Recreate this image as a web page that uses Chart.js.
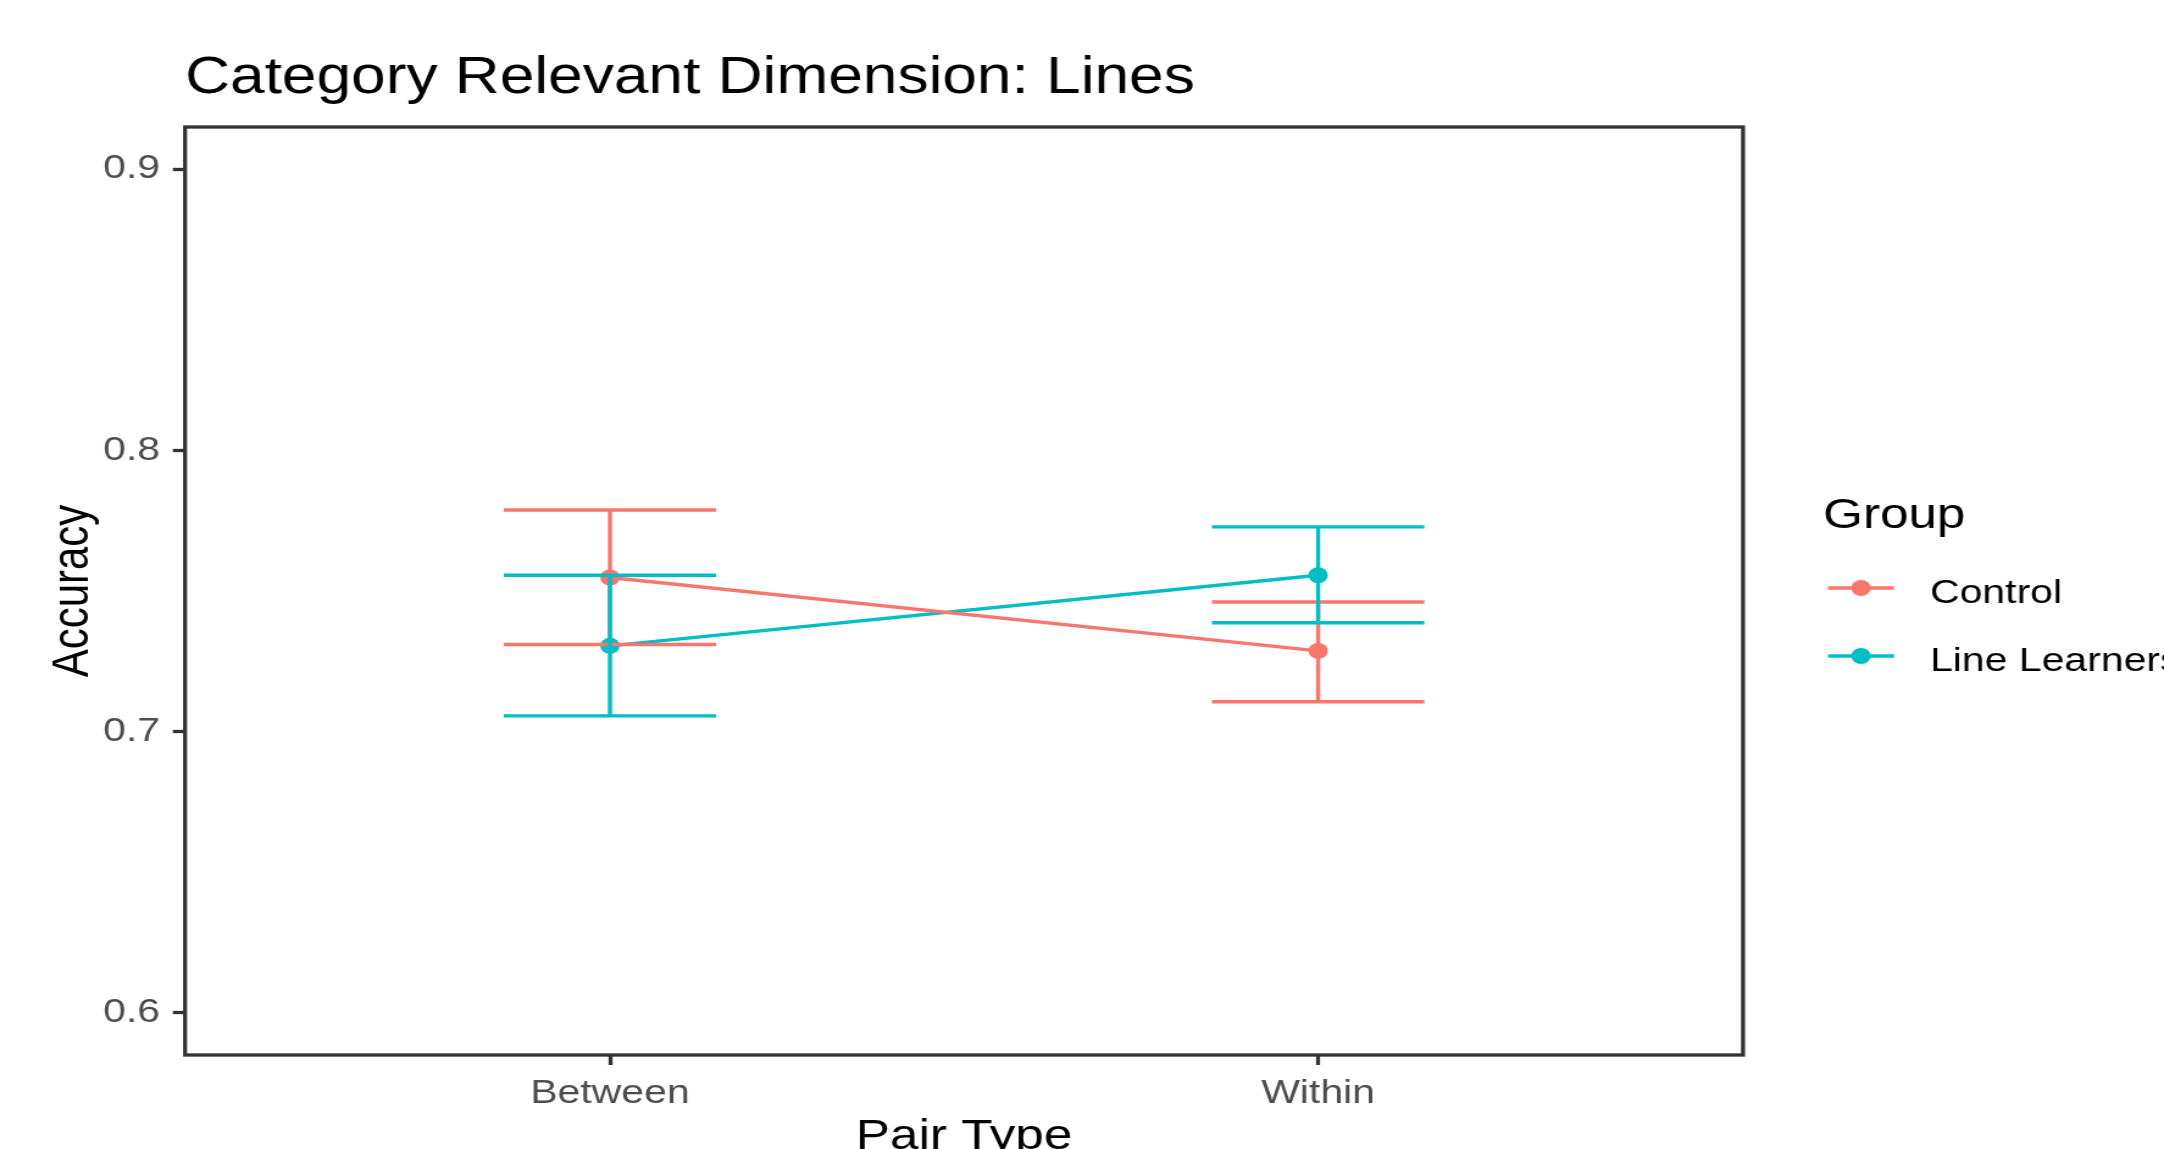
<!DOCTYPE html>
<html>
<head>
<meta charset="utf-8">
<title>Category Relevant Dimension: Lines</title>
<script src="https://cdn.jsdelivr.net/npm/chart.js@4.4.1/dist/chart.umd.min.js"></script>
<style>
  body { margin: 0; background: #fff; overflow: hidden; }
  /* o gráfico original é mais largo que alto na escala do texto, então esticamos só no eixo x */
  #wrap { width: 1774px; height: 1149px; transform: scaleX(1.21984); transform-origin: 0 0; }
  canvas { display: block; }
</style>
</head>
<body>
<div id="wrap"><canvas id="chart-acuracia" width="1774" height="1149"></canvas></div>
<script>
const categorias = ['Between', 'Within']
const grupos = ['Control', 'Line Learners']
const cores = ['#F8766D', '#00BFC4']

// média e limites do intervalo de cada grupo
const mediaControl = [0.7548, 0.7287]
const minControl = [0.7310, 0.7106]
const maxControl = [0.7788, 0.7461]

const mediaLine = [0.7305, 0.7556]
const minLine = [0.7056, 0.7387]
const maxLine = [0.7556, 0.7728]

const ticksY = [0.6, 0.7, 0.8, 0.9]

const LARGURA_BARRA = 0.3
const ESPESSURA = 3.4
const FONTE = "'Liberation Sans', Arial, sans-serif"

Chart.defaults.font.family = FONTE
Chart.defaults.color = '#000'

function criarSerie(label, cor, medias, mins, maxs) {
  return {
    label: label,
    data: medias.map((m, i) => ({ x: i + 1, y: m, min: mins[i], max: maxs[i] })),
    borderColor: cor,
    backgroundColor: cor,
    borderWidth: ESPESSURA,
    pointRadius: 8,
    pointHoverRadius: 8,
    pointBorderWidth: 0,
    pointBackgroundColor: cor,
    tension: 0
  }
}

// barras de erro desenhadas por cima das linhas
const barrasErro = {
  id: 'barrasErro',
  afterDatasetsDraw(chart) {
    const { ctx, scales: { x, y } } = chart
    ctx.save()
    ctx.lineWidth = ESPESSURA
    chart.data.datasets.forEach(ds => {
      ctx.strokeStyle = ds.borderColor
      ds.data.forEach(p => {
        const px = x.getPixelForValue(p.x)
        const esq = x.getPixelForValue(p.x - LARGURA_BARRA / 2)
        const dir = x.getPixelForValue(p.x + LARGURA_BARRA / 2)
        const topo = y.getPixelForValue(p.max)
        const base = y.getPixelForValue(p.min)
        ctx.beginPath()
        ctx.moveTo(px, topo)
        ctx.lineTo(px, base)
        ctx.moveTo(esq, topo)
        ctx.lineTo(dir, topo)
        ctx.moveTo(esq, base)
        ctx.lineTo(dir, base)
        ctx.stroke()
      })
    })
    ctx.restore()
  }
}

// moldura em volta da área do gráfico
const moldura = {
  id: 'moldura',
  afterDraw(chart) {
    const { ctx, chartArea: a } = chart
    ctx.save()
    ctx.strokeStyle = '#333333'
    ctx.lineWidth = 3.3
    ctx.strokeRect(a.left, a.top, a.right - a.left, a.bottom - a.top)
    ctx.restore()
  }
}

// legenda à direita com título "Group"
const legenda = {
  id: 'legenda',
  afterDraw(chart) {
    const ctx = chart.ctx
    ctx.save()
    ctx.textBaseline = 'alphabetic'
    ctx.fillStyle = '#000'
    ctx.font = `42px ${FONTE}`
    ctx.fillText('Group', 1494.5, 528)

    chart.data.datasets.forEach((ds, i) => {
      const yy = 588 + i * 68
      ctx.strokeStyle = ds.borderColor
      ctx.fillStyle = ds.borderColor
      ctx.lineWidth = ESPESSURA
      ctx.beginPath()
      ctx.moveTo(1498.6, yy)
      ctx.lineTo(1552.6, yy)
      ctx.stroke()
      ctx.beginPath()
      ctx.arc(1525.6, yy, 8, 0, Math.PI * 2)
      ctx.fill()

      ctx.fillStyle = '#000'
      ctx.font = `33.6px ${FONTE}`
      ctx.fillText(ds.label, 1582.2, yy + 15)
    })
    ctx.restore()
  }
}

const eixoGrid = { drawOnChartArea: false, drawTicks: true, tickLength: 10, tickWidth: 3.3, tickColor: '#333333' }

new Chart(document.getElementById('chart-acuracia'), {
  type: 'line',
  data: {
    datasets: [
      criarSerie(grupos[0], cores[0], mediaControl, minControl, maxControl),
      criarSerie(grupos[1], cores[1], mediaLine, minLine, maxLine)
    ]
  },
  options: {
    responsive: false,
    devicePixelRatio: 1,
    animation: false,
    events: [],
    layout: { padding: { top: 0, left: 0, right: 345.1, bottom: 0 } },
    plugins: {
      legend: { display: false },
      tooltip: { enabled: false },
      title: {
        display: true,
        text: 'Category Relevant Dimension: Lines',
        align: 'start',
        fullSize: false,
        color: '#000',
        font: { size: 51, weight: 'normal' },
        padding: { top: 48.4, bottom: 17.4 }
      }
    },
    scales: {
      x: {
        type: 'linear',
        min: 0.4,
        max: 2.6,
        afterBuildTicks: s => { s.ticks = categorias.map((c, i) => ({ value: i + 1 })) },
        afterFit: s => { s.height = 94 },
        grid: eixoGrid,
        border: { display: false },
        ticks: {
          callback: v => categorias[v - 1],
          color: '#4D4D4D',
          font: { size: 33.6 },
          padding: 8.5,
          autoSkip: false,
          maxRotation: 0
        },
        title: { display: true, text: 'Pair Type', color: '#000', font: { size: 42, lineHeight: 0.57 }, padding: 0 }
      },
      y: {
        min: 0.585,
        max: 0.915,
        afterBuildTicks: s => { s.ticks = ticksY.map(v => ({ value: v })) },
        afterFit: s => { s.width = 151.7 },
        grid: eixoGrid,
        border: { display: false },
        ticks: {
          callback: v => v.toFixed(1),
          color: '#4D4D4D',
          font: { size: 33.6 },
          padding: 10.5
        },
        title: { display: true, text: 'Accuracy', color: '#000', font: { size: 42 }, padding: { top: 34.8, bottom: 0 } }
      }
    }
  },
  plugins: [barrasErro, moldura, legenda]
})
</script>
</body>
</html>
